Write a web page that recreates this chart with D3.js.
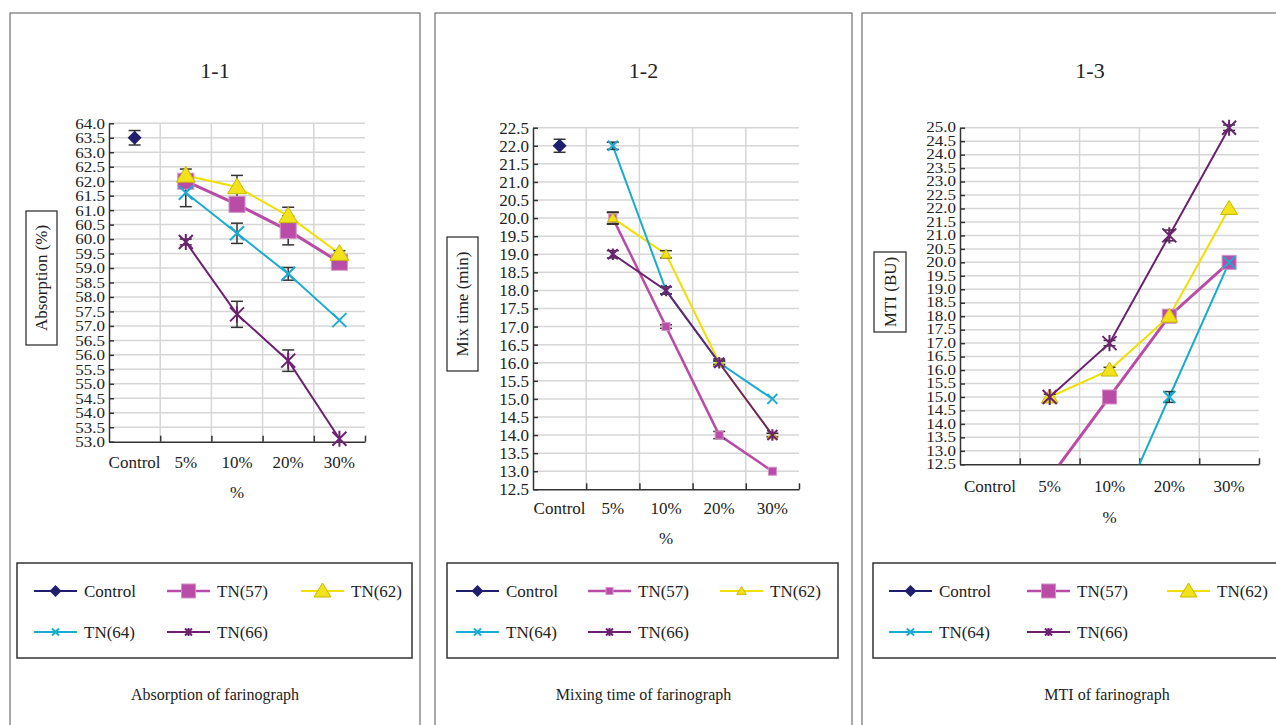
<!DOCTYPE html>
<meta charset="utf-8">
<head>
  <title>Farinograph</title>
</head>

<style>
body {
  margin: 0;
  background: #fff;
}
svg text {
  fill: #222;
  font-family: "Liberation Serif", "DejaVu Serif", serif;
}
.grid line { stroke: #d6d6d6; stroke-width: 1.5; }
.axis path, .axis line { stroke: #333; stroke-width: 1.5; }
.axis text { display: none; }
</style>

<body>
  <svg width="1276" height="725" font-family="Liberation Serif"></svg>

  <script src="https://cdnjs.cloudflare.com/ajax/libs/d3/7.8.5/d3.min.js"></script>

  <script>
  // categories and series
  var categories = ["Control", "5%", "10%", "20%", "30%"];
  var seriesNames = ["Control", "TN(57)", "TN(62)", "TN(64)", "TN(66)"];
  var seriesColors = ["#1f1f6e", "#b84ca6", "#f0df00", "#19acd2", "#6c2270"];
  var seriesShapes = ["diamond", "square", "triangle", "x", "asterisk"];

  // 1-1 absorption (%)
  var absControl = [63.5, null, null, null, null];
  var absTN57 = [null, 62.0, 61.2, 60.3, 59.2];
  var absTN62 = [null, 62.2, 61.8, 60.8, 59.5];
  var absTN64 = [null, 61.6, 60.2, 58.8, 57.2];
  var absTN66 = [null, 59.9, 57.4, 55.8, 53.1];
  var absErrControl = [0.25, null, null, null, null];
  var absErr57 = [null, 0.2, 0.2, 0.5, 0.1];
  var absErr62 = [null, 0.22, 0.4, 0.3, 0.1];
  var absErr64 = [null, 0.48, 0.35, 0.22, 0];
  var absErr66 = [null, 0.1, 0.45, 0.37, 0];
  var absDomain = [53, 64];

  // 1-2 mix time (min)
  var mixControl = [22.0, null, null, null, null];
  var mixTN57 = [null, 20.0, 17.0, 14.0, 13.0];
  var mixTN62 = [null, 20.0, 19.0, 16.0, 14.0];
  var mixTN64 = [null, 22.0, 18.0, 16.0, 15.0];
  var mixTN66 = [null, 19.0, 18.0, 16.0, 14.0];
  var mixErrControl = [0.18, null, null, null, null];
  var mixErr57 = [null, 0.17, 0.05, 0.1, 0];
  var mixErr62 = [null, 0.15, 0.1, 0.05, 0];
  var mixErr64 = [null, 0.1, 0.1, 0.05, 0];
  var mixErr66 = [null, 0.1, 0.1, 0.1, 0.05];
  var mixDomain = [12.5, 22.5];

  // 1-3 MTI (BU)
  var mtiControl = [null, null, null, null, null];
  var mtiTN57 = [null, 12.0, 15.0, 18.0, 20.0];
  var mtiTN62 = [null, 15.0, 16.0, 18.0, 22.0];
  var mtiTN64 = [null, null, 10.0, 15.0, 20.0];
  var mtiTN66 = [null, 15.0, 17.0, 21.0, 25.0];
  var mtiErrControl = [null, null, null, null, null];
  var mtiErr57 = [null, 0, 0, 0.1, 0];
  var mtiErr62 = [null, 0, 0.1, 0.1, 0];
  var mtiErr64 = [null, 0, 0, 0.2, 0];
  var mtiErr66 = [null, 0.1, 0.1, 0.2, 0.1];
  var mtiDomain = [12.5, 25];

  var panels = [
    {
      title: "1-1", caption: "Absorption of farinograph", yLabel: "Absorption (%)",
      values: [absControl, absTN57, absTN62, absTN64, absTN66],
      errors: [absErrControl, absErr57, absErr62, absErr64, absErr66],
      domain: absDomain, tickFont: 17, squash: 0.9,
      box: { x: 10, w: 410 }, plot: { x0: 109, x1: 365, y0: 123.3, y1: 441.7 },
      labelBox: { x: 26, y: 211, w: 31, h: 134 }, catDy: 20, pctY: 492,
      legend: { x: 17, y: 563, w: 395, cols: [34, 167, 301] },
      r: { diamond: 7, square: 8, triangle: 9, x: 7, asterisk: 7, line57: 3 },
      lr: { diamond: 6, square: 7, triangle: 8, x: 3.5, asterisk: 3.5 }
    },
    {
      title: "1-2", caption: "Mixing time of farinograph", yLabel: "Mix time (min)",
      values: [mixControl, mixTN57, mixTN62, mixTN64, mixTN66],
      errors: [mixErrControl, mixErr57, mixErr62, mixErr64, mixErr66],
      domain: mixDomain, tickFont: 17, squash: 1,
      box: { x: 435, w: 417 }, plot: { x0: 533, x1: 799, y0: 127.7, y1: 489.3 },
      labelBox: { x: 447, y: 237, w: 31, h: 134 }, catDy: 19, pctY: 538,
      legend: { x: 447, y: 563, w: 391, cols: [456, 588, 720] },
      r: { diamond: 7, square: 4, triangle: 5, x: 5, asterisk: 5, line57: 2.5 },
      lr: { diamond: 6, square: 3.5, triangle: 4.5, x: 3.5, asterisk: 3.5 }
    },
    {
      title: "1-3", caption: "MTI of farinograph", yLabel: "MTI (BU)",
      values: [mtiControl, mtiTN57, mtiTN62, mtiTN64, mtiTN66],
      errors: [mtiErrControl, mtiErr57, mtiErr62, mtiErr64, mtiErr66],
      domain: mtiDomain, tickFont: 17, squash: 0.8,
      box: { x: 862, w: 456 }, plot: { x0: 960, x1: 1259, y0: 127.7, y1: 464.3 },
      labelBox: { x: 874, y: 252, w: 32, h: 80 }, catDy: 22, pctY: 517,
      legend: { x: 873, y: 563, w: 430, cols: [889, 1027, 1167] },
      r: { diamond: 7, square: 7, triangle: 8, x: 6, asterisk: 7, line57: 3 },
      lr: { diamond: 6, square: 7, triangle: 8, x: 3.5, asterisk: 3.5 }
    }
  ];

  var svg = d3.select("svg");

  function drawMarker(g, shape, cx, cy, r, color) {
    if (shape === "diamond") {
      g.append("path").attr("d", "M0," + (-r) + "L" + r + ",0L0," + r + "L" + (-r) + ",0Z")
        .attr("transform", "translate(" + cx + "," + cy + ")").attr("fill", color);
    } else if (shape === "square") {
      g.append("rect").attr("x", cx - r).attr("y", cy - r).attr("width", 2 * r).attr("height", 2 * r)
        .attr("fill", color).attr("stroke", "#d590c8").attr("stroke-width", 1);
    } else if (shape === "triangle") {
      g.append("path").attr("d", "M0," + (-r) + "L" + (r * 1.05) + "," + (r * 0.75) + "L" + (-r * 1.05) + "," + (r * 0.75) + "Z")
        .attr("transform", "translate(" + cx + "," + cy + ")")
        .attr("fill", "#f2e21a").attr("stroke", "#c9b900").attr("stroke-width", 1);
    } else if (shape === "x") {
      g.append("path").attr("d", "M" + (-r) + "," + (-r) + "L" + r + "," + r + "M" + (-r) + "," + r + "L" + r + "," + (-r))
        .attr("transform", "translate(" + cx + "," + cy + ")")
        .attr("stroke", color).attr("stroke-width", 2).attr("fill", "none");
    } else {
      g.append("path").attr("d", "M" + (-r) + "," + (-r) + "L" + r + "," + r + "M" + (-r) + "," + r + "L" + r + "," + (-r) + "M0," + (-r * 1.15) + "L0," + (r * 1.15))
        .attr("transform", "translate(" + cx + "," + cy + ")")
        .attr("stroke", color).attr("stroke-width", 2).attr("fill", "none");
    }
  }

  panels.forEach(function(p, pi) {
    var g = svg.append("g");

    // panel frame
    g.append("rect").attr("x", p.box.x).attr("y", 13).attr("width", p.box.w).attr("height", 760)
      .attr("fill", "none").attr("stroke", "#555").attr("stroke-width", 1);

    g.append("text").attr("x", p.box.x + p.box.w / 2).attr("y", 70).attr("dy", "0.35em")
      .attr("text-anchor", "middle").attr("font-size", 22).text(p.title);

    var x = d3.scaleBand().domain(categories).range([p.plot.x0, p.plot.x1]);
    var xEdge = d3.scaleLinear().domain([0, categories.length]).range([p.plot.x0, p.plot.x1]);
    var y = d3.scaleLinear().domain(p.domain).range([p.plot.y1, p.plot.y0]);
    var ticks = d3.range(p.domain[0], p.domain[1] + 0.001, 0.5);

    // gridlines
    var grid = g.append("g").attr("class", "grid");
    grid.selectAll(".h").data(ticks.slice(1)).enter().append("line")
      .attr("x1", p.plot.x0).attr("x2", p.plot.x1)
      .attr("y1", function(d) { return y(d); }).attr("y2", function(d) { return y(d); });
    grid.selectAll(".v").data(d3.range(1, categories.length)).enter().append("line")
      .attr("x1", function(d) { return xEdge(d); }).attr("x2", function(d) { return xEdge(d); })
      .attr("y1", p.plot.y0).attr("y2", p.plot.y1);

    // axes
    g.append("g").attr("class", "axis")
      .attr("transform", "translate(" + p.plot.x0 + ",0)")
      .call(d3.axisLeft(y).tickValues(ticks).tickSizeInner(-5).tickSizeOuter(0));
    g.append("g").attr("class", "axis")
      .attr("transform", "translate(0," + p.plot.y1 + ")")
      .call(d3.axisBottom(xEdge).tickValues(d3.range(1, categories.length + 1)).tickSizeInner(-6).tickSizeOuter(0));

    // tick labels
    g.append("g").selectAll("text").data(ticks).enter().append("text")
      .attr("transform", function(d) { return "translate(" + (p.plot.x0 - 4) + "," + y(d) + ") scale(1," + p.squash + ")"; })
      .attr("dy", "0.35em")
      .attr("text-anchor", "end").attr("font-size", p.tickFont).text(function(d) { return d.toFixed(1); });
    g.append("g").selectAll("text").data(categories).enter().append("text")
      .attr("x", function(d) { return x(d) + x.bandwidth() / 2; }).attr("y", p.plot.y1 + p.catDy).attr("dy", "0.35em")
      .attr("text-anchor", "middle").attr("font-size", 17).text(function(d) { return d; });
    g.append("text").attr("x", (p.plot.x0 + p.plot.x1) / 2).attr("y", p.pctY).attr("dy", "0.35em")
      .attr("text-anchor", "middle").attr("font-size", 17).text("%");

    // y label in box
    g.append("rect").attr("x", p.labelBox.x).attr("y", p.labelBox.y).attr("width", p.labelBox.w).attr("height", p.labelBox.h)
      .attr("fill", "#fff").attr("stroke", "#333").attr("stroke-width", 1.3);
    var lcx = p.labelBox.x + p.labelBox.w / 2, lcy = p.labelBox.y + p.labelBox.h / 2;
    g.append("text").attr("transform", "translate(" + lcx + "," + lcy + ") rotate(-90)").attr("dy", "0.35em")
      .attr("text-anchor", "middle").attr("font-size", 17).text(p.yLabel);

    // clip
    var clipId = "clip" + pi;
    g.append("clipPath").attr("id", clipId).append("rect")
      .attr("x", p.plot.x0).attr("y", p.plot.y0 - 10).attr("width", p.plot.x1 - p.plot.x0).attr("height", p.plot.y1 - p.plot.y0 + 10);

    var series = seriesNames.map(function(name, si) {
      return categories.map(function(c, ci) {
        return { c: c, v: p.values[si][ci], e: p.errors[si][ci] };
      });
    });

    var line = d3.line()
      .defined(function(d) { return d.v != null; })
      .x(function(d) { return x(d.c) + x.bandwidth() / 2; })
      .y(function(d) { return y(d.v); });

    var lines = g.append("g").attr("clip-path", "url(#" + clipId + ")");
    series.forEach(function(s, si) {
      lines.append("path").datum(s).attr("d", line).attr("fill", "none")
        .attr("stroke", seriesColors[si]).attr("stroke-width", si === 1 ? p.r.line57 : 2);
    });

    // error bars
    var eb = g.append("g").attr("stroke", "#333").attr("stroke-width", 1.5);
    series.forEach(function(s) {
      s.forEach(function(d) {
        if (d.v == null || !d.e || d.v < p.domain[0]) return;
        var cx = x(d.c) + x.bandwidth() / 2;
        var t = y(d.v + d.e), b = y(d.v - d.e);
        eb.append("line").attr("x1", cx).attr("x2", cx).attr("y1", t).attr("y2", b);
        eb.append("line").attr("x1", cx - 6).attr("x2", cx + 6).attr("y1", t).attr("y2", t);
        eb.append("line").attr("x1", cx - 6).attr("x2", cx + 6).attr("y1", b).attr("y2", b);
      });
    });

    // markers
    var mk = g.append("g");
    series.forEach(function(s, si) {
      s.forEach(function(d) {
        if (d.v == null || d.v < p.domain[0]) return;
        drawMarker(mk, seriesShapes[si], x(d.c) + x.bandwidth() / 2, y(d.v), p.r[seriesShapes[si]], seriesColors[si]);
      });
    });

    // legend
    var L = p.legend;
    g.append("rect").attr("x", L.x).attr("y", L.y).attr("width", L.w).attr("height", 95)
      .attr("fill", "#fff").attr("stroke", "#333").attr("stroke-width", 1.5);
    seriesNames.forEach(function(name, si) {
      var row = si < 3 ? 0 : 1;
      var col = si < 3 ? si : si - 3;
      var lx = L.cols[col], ly = L.y + (row === 0 ? 28 : 69);
      g.append("line").attr("x1", lx).attr("x2", lx + 43).attr("y1", ly).attr("y2", ly)
        .attr("stroke", seriesColors[si]).attr("stroke-width", si === 1 ? 2.5 : 2);
      drawMarker(g, seriesShapes[si], lx + 21.5, ly, p.lr[seriesShapes[si]], seriesColors[si]);
      g.append("text").attr("x", lx + 50).attr("y", ly).attr("dy", "0.35em")
        .attr("font-size", 17).text(name);
    });

    g.append("text").attr("x", p.box.x + p.box.w / 2 + (pi === 2 ? 17 : 0)).attr("y", 694).attr("dy", "0.35em")
      .attr("text-anchor", "middle").attr("font-size", 16).text(p.caption);
  });
  </script>
</body>
</html>
